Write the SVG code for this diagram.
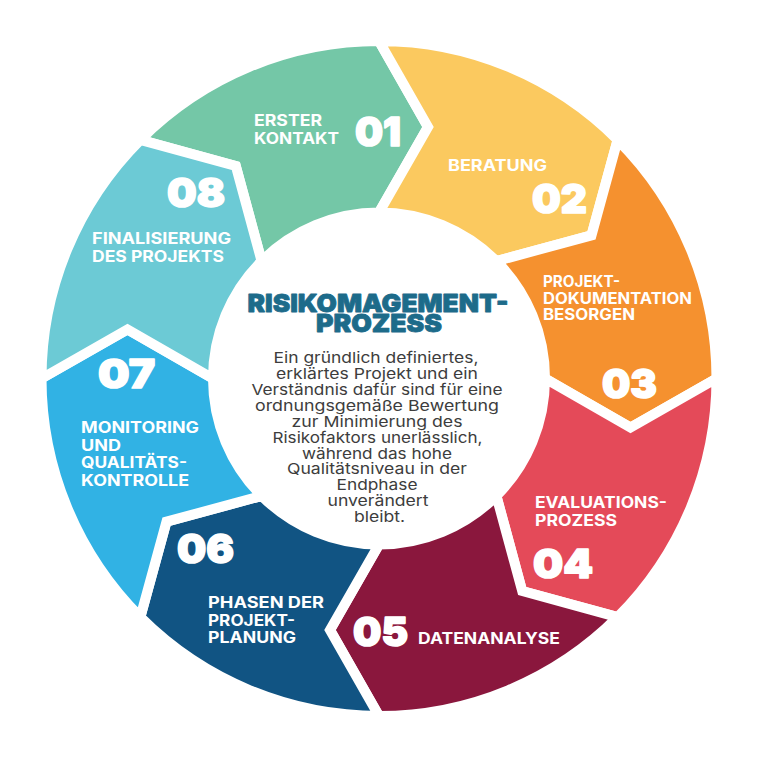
<svg xmlns="http://www.w3.org/2000/svg" width="757" height="757" viewBox="0 0 757 757">
<style>
.seg{stroke:#fff;stroke-width:10;stroke-linejoin:miter;stroke-miterlimit:10}
.lbl{font-family:Inter,"Open Sans","Liberation Sans",sans-serif;font-weight:700;font-size:15.5px;fill:#fff}
.num{font-family:Inter,Lato,"Liberation Sans",sans-serif;font-weight:900;font-size:40px;fill:#fff;stroke:#fff;stroke-width:1.6;stroke-linejoin:round}
.title{font-family:Inter,Lato,"Liberation Sans",sans-serif;font-weight:900;font-size:25px;fill:#1d6b8a;stroke:#1d6b8a;stroke-width:0.8;stroke-linejoin:round;text-anchor:middle}
.body{font-family:Inter,"Open Sans","Liberation Sans",sans-serif;font-weight:400;font-size:15px;fill:#3d3d3d;text-anchor:middle}
</style>
<rect width="757" height="757" fill="#fff"/>
<g id="step01">
<path class="seg" fill="#74c7a7" d="M140.35,139.85 A337.5,337.5 0 0 1 379,41 L428,127 L379,212.5 A166,166 0 0 0 261.62,261.12 L235.81,166.01 Z"/>
<text class="lbl" x="254" y="126" textLength="68" lengthAdjust="spacingAndGlyphs">ERSTER</text>
<text class="lbl" x="254" y="144" textLength="85" lengthAdjust="spacingAndGlyphs">KONTAKT</text>
<text class="num" x="355" y="146" textLength="46" lengthAdjust="spacingAndGlyphs">01</text>
</g>
<g id="step02">
<path class="seg" fill="#fbc95f" d="M379,41 A337.5,337.5 0 0 1 617.65,139.85 L591.49,235.31 L496.38,261.12 A166,166 0 0 0 379,212.5 L428,127 Z"/>
<text class="lbl" x="448" y="171" textLength="99" lengthAdjust="spacingAndGlyphs">BERATUNG</text>
<text class="num" x="532" y="213" textLength="55" lengthAdjust="spacingAndGlyphs">02</text>
</g>
<g id="step03">
<path class="seg" fill="#f5912f" d="M617.65,139.85 A337.5,337.5 0 0 1 716.5,378.5 L630.5,427.5 L545,378.5 A166,166 0 0 0 496.38,261.12 L591.49,235.31 Z"/>
<text class="lbl" x="543" y="287" textLength="77" lengthAdjust="spacingAndGlyphs">PROJEKT-</text>
<text class="lbl" x="543" y="303.5" textLength="149" lengthAdjust="spacingAndGlyphs">DOKUMENTATION</text>
<text class="lbl" x="543" y="320" textLength="92" lengthAdjust="spacingAndGlyphs">BESORGEN</text>
<text class="num" x="602" y="398" textLength="55" lengthAdjust="spacingAndGlyphs">03</text>
</g>
<g id="step04">
<path class="seg" fill="#e44a59" d="M716.5,378.5 A337.5,337.5 0 0 1 617.65,617.15 L522.19,590.99 L496.38,495.88 A166,166 0 0 0 545,378.5 L630.5,427.5 Z"/>
<text class="lbl" x="535" y="508" textLength="132" lengthAdjust="spacingAndGlyphs">EVALUATIONS-</text>
<text class="lbl" x="535" y="526" textLength="82" lengthAdjust="spacingAndGlyphs">PROZESS</text>
<text class="num" x="533" y="578" textLength="60" lengthAdjust="spacingAndGlyphs">04</text>
</g>
<g id="step05">
<path class="seg" fill="#8a173d" d="M617.65,617.15 A337.5,337.5 0 0 1 379,716 L330,630 L379,544.5 A166,166 0 0 0 496.38,495.88 L522.19,590.99 Z"/>
<text class="num" x="353" y="646" textLength="55" lengthAdjust="spacingAndGlyphs">05</text>
<text class="lbl" x="418" y="644" textLength="142" lengthAdjust="spacingAndGlyphs">DATENANALYSE</text>
</g>
<g id="step06">
<path class="seg" fill="#115483" d="M379,716 A337.5,337.5 0 0 1 140.35,617.15 L166.51,521.69 L261.62,495.88 A166,166 0 0 0 379,544.5 L330,630 Z"/>
<text class="num" x="177" y="563" textLength="57" lengthAdjust="spacingAndGlyphs">06</text>
<text class="lbl" x="208" y="608" textLength="116" lengthAdjust="spacingAndGlyphs">PHASEN DER</text>
<text class="lbl" x="208" y="626" textLength="87" lengthAdjust="spacingAndGlyphs">PROJEKT-</text>
<text class="lbl" x="208" y="643" textLength="88" lengthAdjust="spacingAndGlyphs">PLANUNG</text>
</g>
<g id="step07">
<path class="seg" fill="#31b2e4" d="M140.35,617.15 A337.5,337.5 0 0 1 41.5,378.5 L127.5,329.5 L213,378.5 A166,166 0 0 0 261.62,495.88 L166.51,521.69 Z"/>
<text class="num" x="98" y="388" textLength="57" lengthAdjust="spacingAndGlyphs">07</text>
<text class="lbl" x="81" y="433" textLength="118" lengthAdjust="spacingAndGlyphs">MONITORING</text>
<text class="lbl" x="81" y="451" textLength="40" lengthAdjust="spacingAndGlyphs">UND</text>
<text class="lbl" x="81" y="468" textLength="106" lengthAdjust="spacingAndGlyphs">QUALITÄTS-</text>
<text class="lbl" x="81" y="486" textLength="108" lengthAdjust="spacingAndGlyphs">KONTROLLE</text>
</g>
<g id="step08">
<path class="seg" fill="#6ccad5" d="M41.5,378.5 A337.5,337.5 0 0 1 140.35,139.85 L235.81,166.01 L261.62,261.12 A166,166 0 0 0 213,378.5 L127.5,329.5 Z"/>
<text class="num" x="167" y="207" textLength="58" lengthAdjust="spacingAndGlyphs">08</text>
<text class="lbl" x="92" y="244" textLength="139" lengthAdjust="spacingAndGlyphs">FINALISIERUNG</text>
<text class="lbl" x="92" y="262" textLength="132" lengthAdjust="spacingAndGlyphs">DES PROJEKTS</text>
</g>
<g id="center">
<text class="title" x="378" y="312" textLength="261" lengthAdjust="spacingAndGlyphs">RISIKOMAGEMENT-</text>
<text class="title" x="379" y="332" textLength="126" lengthAdjust="spacingAndGlyphs">PROZESS</text>
<text class="body" x="376" y="363" textLength="205" lengthAdjust="spacingAndGlyphs">Ein gründlich definiertes,</text>
<text class="body" x="377" y="379" textLength="202" lengthAdjust="spacingAndGlyphs">erklärtes Projekt und ein</text>
<text class="body" x="377" y="395" textLength="251" lengthAdjust="spacingAndGlyphs">Verständnis dafür sind für eine</text>
<text class="body" x="377" y="411" textLength="244" lengthAdjust="spacingAndGlyphs">ordnungsgemäße Bewertung</text>
<text class="body" x="377" y="427" textLength="171" lengthAdjust="spacingAndGlyphs">zur Minimierung des</text>
<text class="body" x="377.5" y="443" textLength="210" lengthAdjust="spacingAndGlyphs">Risikofaktors unerlässlich,</text>
<text class="body" x="377" y="459" textLength="150" lengthAdjust="spacingAndGlyphs">während das hohe</text>
<text class="body" x="377" y="474" textLength="180" lengthAdjust="spacingAndGlyphs">Qualitätsniveau in der</text>
<text class="body" x="377" y="490" textLength="81" lengthAdjust="spacingAndGlyphs">Endphase</text>
<text class="body" x="378" y="506" textLength="101" lengthAdjust="spacingAndGlyphs">unverändert</text>
<text class="body" x="379.5" y="522" textLength="51" lengthAdjust="spacingAndGlyphs">bleibt.</text>
</g>
</svg>
